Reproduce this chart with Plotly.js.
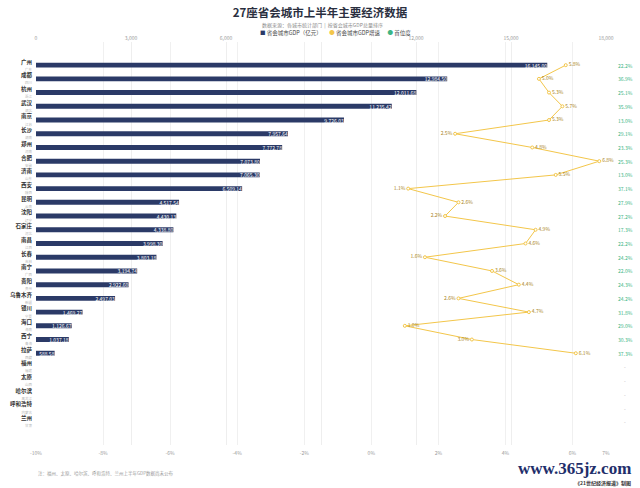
<!DOCTYPE html>
<html>
<head>
<meta charset="utf-8">
<script src="https://cdn.plot.ly/plotly-3.0.1.min.js"></script>
<style>html,body{margin:0;padding:0;background:#fff;}#chart{width:640px;height:488px;}</style>
</head>
<body>
<div id="chart"></div>
<script>
// ---- data ----
const cities = ['广州','成都','杭州','武汉','南京','长沙','郑州','合肥','济南','西安','昆明','沈阳','石家庄','南昌','长春','南宁','贵阳','乌鲁木齐','银川','海口','西宁','拉萨','福州','太原','哈尔滨','呼和浩特','兰州'];
const provinces = ['广东','四川','浙江','湖北','江苏','湖南','河南','安徽','山东','陕西','云南','辽宁','河北','江西','吉林','广西','贵州','新疆','宁夏','海南','青海','西藏','福建','山西','黑龙江','内蒙古','甘肃'];
const gdp = [16145.00, 12984.50, 12011.68, 11235.42, 9726.03, 7957.64, 7772.78, 7073.80, 7065.30, 6509.14, 4517.54, 4430.13, 4338.80, 3998.30, 3803.18, 3194.74, 2922.60, 2497.03, 1469.27, 1126.67, 1037.18, 588.58, null, null, null, null, null];
const growth = [5.8, 5.0, 5.3, 5.7, 5.3, 2.5, 4.8, 6.8, 5.5, 1.1, 2.6, 2.2, 4.9, 4.6, 1.6, 3.6, 4.4, 2.6, 4.7, 1.0, 3.0, 6.1, null, null, null, null, null];
const primacy = ['22.2%','36.9%','25.1%','35.9%','13.0%','29.1%','23.3%','25.3%','13.0%','37.1%','27.9%','27.2%','17.3%','22.2%','24.2%','22.0%','24.3%','24.2%','31.8%','29.0%','30.3%','37.3%','-','-','-','-','-'];
const gdpTicks = [0, 3000, 6000, 9000, 12000, 15000, 18000];
const gdpTickText = ['0', '3,000', '6,000', '', '12,000', '15,000', '18,000'];
const growthTicks = [-10, -8, -6, -4, -2, 0, 2, 4, 6, 7];
const growthTickText = ['-10%', '-8%', '-6%', '-4%', '-2%', '0%', '2%', '4%', '6%', '7%'];

// ---- styles / positions ----
const FONT = '"Noto Sans CJK SC", "Noto Sans", sans-serif';
const NAVY = '#2b3a67';
const GOLD = '#f3c64a';
const GOLDTXT = '#a9841c';
const GREEN = '#3cb584';
const labelSide = ['middle right','middle right','middle right','middle right','middle right','middle left','middle right','middle right','middle right','middle left','middle right','middle left','middle right','middle right','middle left','middle right','middle right','middle left','middle right','middle right','middle left','middle right'];

const L = 36, R = 606, T = 42, B = 445;
const px = x => (x - L) / (R - L);
const py = y => (B - y) / (B - T);

const tickText = cities.map((c, i) => '<b>' + c + '</b><br><span style="font-size:3.5px;color:#b8b8b8">' + provinces[i] + '</span>');

const bars = {
  type: 'bar', orientation: 'h', x: gdp, y: cities, xaxis: 'x', yaxis: 'y',
  marker: {color: NAVY}, width: 0.36,
  texttemplate: '%{x:,.2f}', textposition: 'inside', insidetextanchor: 'end',
  constraintext: 'none', cliponaxis: false,
  textfont: {color: '#ffffff', size: 5, family: FONT},
  name: '省会城市GDP（亿元）', showlegend: false, hoverinfo: 'x+y'
};
const line = {
  type: 'scatter', mode: 'lines+markers+text', x: growth, y: cities, xaxis: 'x2', yaxis: 'y',
  line: {color: GOLD, width: 1}, marker: {color: '#ffffff', size: 3, line: {color: GOLD, width: 1}},
  texttemplate: '%{x:.1f}%', textposition: labelSide.concat(cities.slice(labelSide.length).map(() => 'middle right')),
  textfont: {color: GOLDTXT, size: 5, family: FONT}, connectgaps: false, cliponaxis: false,
  name: '省会城市GDP增速', showlegend: false
};

const annotations = [];
cities.forEach((c, i) => {
  annotations.push({
    xref: 'paper', yref: 'y', x: px(625), y: c, text: primacy[i], showarrow: false,
    xanchor: 'center', yanchor: 'middle',
    font: {size: 5, color: primacy[i] === '-' ? '#aaaaaa' : GREEN, family: FONT}
  });
});
annotations.push({
  xref: 'paper', yref: 'paper', x: px(322), y: py(25), showarrow: false, xanchor: 'center', yanchor: 'middle',
  text: '数据来源：各城市统计部门  |  按省会城市GDP总量排序', font: {size: 5, color: '#8a8a8a', family: FONT}
});
annotations.push({
  xref: 'paper', yref: 'paper', x: px(335), y: py(33), showarrow: false, xanchor: 'center', yanchor: 'middle',
  text: '<span style="color:' + NAVY + '">■</span> 省会城市GDP（亿元）      <span style="color:' + GOLD + '">●</span> 省会城市GDP增速      <span style="color:' + GREEN + '">●</span> 首位度',
  font: {size: 5.5, color: '#444444', family: FONT}
});
annotations.push({
  xref: 'paper', yref: 'paper', x: 0, y: py(474), showarrow: false, xanchor: 'left', yanchor: 'middle',
  text: '注：福州、太原、哈尔滨、呼和浩特、兰州上半年GDP数据尚未公布', font: {size: 4.5, color: '#9a9a9a', family: FONT}
});
annotations.push({
  xref: 'paper', yref: 'paper', x: px(633), y: py(469), showarrow: false, xanchor: 'right', yanchor: 'middle',
  text: '<b>www.365jz.com</b>', font: {size: 17, color: '#1f2f6b', family: '"Liberation Serif", serif'}
});
annotations.push({
  xref: 'paper', yref: 'paper', x: px(633), y: py(483), showarrow: false, xanchor: 'right', yanchor: 'middle',
  text: '<b>《21世纪经济报道》制图</b>', font: {size: 5, color: '#333333', family: FONT}
});

const layout = {
  width: 640, height: 488,
  margin: {l: L, r: 640 - R, t: T, b: 488 - B, pad: 0},
  paper_bgcolor: '#ffffff', plot_bgcolor: '#ffffff',
  font: {family: FONT, size: 5, color: '#999999'},
  showlegend: false,
  title: {text: '<b>27座省会城市上半年主要经济数据</b>', x: 0.5, xref: 'container', xanchor: 'center',
          y: 1 - 13 / 488, yref: 'container', yanchor: 'middle',
          font: {size: 11.5, color: '#2a2f3f', family: FONT}},
  xaxis: {
    side: 'top', range: [0, 18000], tickvals: gdpTicks, ticktext: gdpTickText,
    showgrid: true, gridcolor: '#eeeeee', gridwidth: 1, zeroline: false, showline: false,
    ticks: '', tickfont: {size: 5, color: '#9a9a9a'}, fixedrange: true
  },
  xaxis2: {
    overlaying: 'x', side: 'bottom', anchor: 'y', range: [-10, 7], tickvals: growthTicks, ticktext: growthTickText,
    showgrid: true, gridcolor: '#f0f0f0', gridwidth: 1, zeroline: false, showline: false,
    ticks: '', tickfont: {size: 5, color: '#9a9a9a'}, ticklabelstandoff: 4
  },
  yaxis: {
    type: 'category', categoryorder: 'array', categoryarray: cities, autorange: 'reversed',
    tickvals: cities, ticktext: tickText, showgrid: false, zeroline: false, showline: false,
    ticks: '', tickfont: {size: 5.5, color: '#333333'}, ticklabelstandoff: 3
  },
  bargap: 0.6,
  annotations: annotations
};

Plotly.newPlot('chart', [bars, line], layout, {displayModeBar: false, staticPlot: true});
</script>
</body>
</html>
